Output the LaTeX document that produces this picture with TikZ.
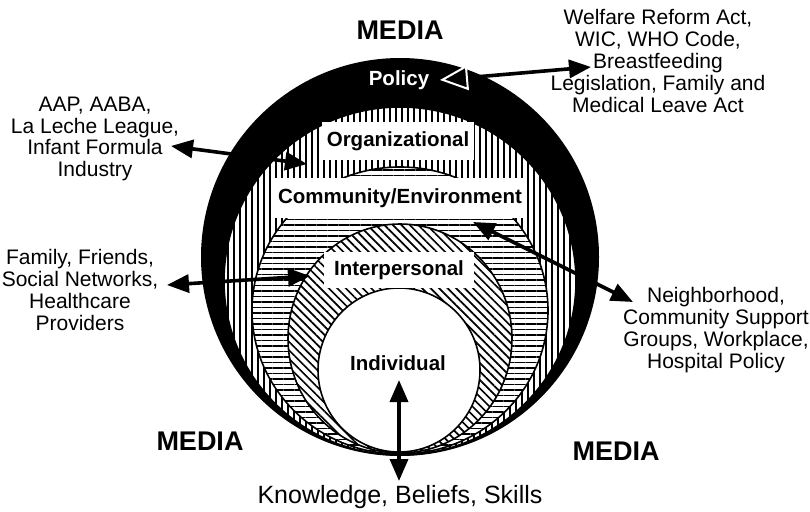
\documentclass[tikz,border=0pt]{standalone}
\usepackage{fontspec}
\setmainfont{Liberation Sans}
\usetikzlibrary{arrows.meta,patterns.meta}
\tikzset{
  lbl/.style={font=\fontsize{21}{21.8}\selectfont, align=center, inner sep=0pt},
  blbl/.style={font=\bfseries\fontsize{20.5}{22}\selectfont, inner sep=0pt},
  media/.style={font=\bfseries\fontsize{27}{30}\selectfont, inner sep=0pt},
  labelbox/.style={fill=white, inner sep=0pt},
  ring/.style={draw=black, line width=1.6pt},
  vlines/.style={preaction={fill=white}, pattern={Lines[angle=90,distance=6pt,line width=1.9pt]}},
  hlines/.style={preaction={fill=white}, pattern={Lines[angle=0,distance=5.5pt,line width=1.9pt]}},
  dlines/.style={preaction={fill=white}, pattern={Lines[angle=-45,distance=6pt,line width=1.7pt]}},
  twoway/.style={line width=3.6pt, {Triangle[length=22pt,width=18pt]}-{Triangle[length=22pt,width=18pt]}},
  hollowway/.style={line width=3.6pt, {Triangle[length=28pt,width=25pt,color=white,fill=black,line width=2pt]}-{Triangle[length=22pt,width=18pt]}},
}
\begin{document}
\begin{tikzpicture}[x=1pt,y=-1pt]
\useasboundingbox (0,0) rectangle (810,511);
% rings
\fill[black] (400,257) ellipse [x radius=199, y radius=199];
\path[vlines, ring] (400,281) ellipse [x radius=176, y radius=174];
\path[hlines, ring] (400,310.5) ellipse [x radius=148, y radius=143.5];
\path[dlines, ring] (400,338.5) ellipse [x radius=112, y radius=114.5];
\path[fill=white, ring] (399,370) ellipse [x radius=81, y radius=82];
% labels in rings
\node[blbl, text=white] (policy) at (399,80) {Policy};
\node[blbl, labelbox, minimum width=152pt, minimum height=38pt] (org) at (398,141) {Organizational};
\node[blbl, labelbox, minimum width=254pt, minimum height=40pt] (comm) at (400,198) {Community/Environment};
\node[blbl, labelbox, minimum width=150pt, minimum height=36pt] (interp) at (399,270) {Interpersonal};
\node[blbl] (indiv) at (398,363) {Individual};
% outside texts
\node[media] (mediaT) at (400,30) {MEDIA};
\node[media] (mediaL) at (200,441) {MEDIA};
\node[media] (mediaR) at (616,451) {MEDIA};
\node[lbl] (welfare) at (658,61) {Welfare Reform Act,\\WIC, WHO Code,\\Breastfeeding\\Legislation, Family and\\Medical Leave Act};
\node[lbl] (aap) at (95,139) {AAP, AABA,\\La Leche League,\\Infant Formula\\Industry};
\node[lbl] (family) at (80,290) {Family, Friends,\\Social Networks,\\Healthcare\\Providers};
\node[lbl] (neigh) at (716,330) {Neighborhood,\\Community Support\\Groups, Workplace,\\Hospital Policy};
\node[font=\fontsize{25}{28}\selectfont, inner sep=0pt] (kbs) at (400,497) {Knowledge, Beliefs, Skills};
% arrow ends
\coordinate (polTip) at (440,80);
\coordinate (welTip) at (591,67);
\coordinate (aapTip) at (171,146);
\coordinate (orgTip) at (307,164);
\coordinate (famTip) at (167,285);
\coordinate (intTip) at (310,276);
\coordinate (comTip) at (473,222);
\coordinate (neiTip) at (633,302);
\coordinate (indTip) at (399,380);
\coordinate (kbsTip) at (399,481);
% arrows
\draw[hollowway] (polTip) -- (welTip);
\draw[twoway] (aapTip) -- (orgTip);
\draw[twoway] (famTip) -- (intTip);
\draw[twoway] (comTip) -- (neiTip);
\draw[twoway] (indTip) -- (kbsTip);
\end{tikzpicture}
\end{document}
